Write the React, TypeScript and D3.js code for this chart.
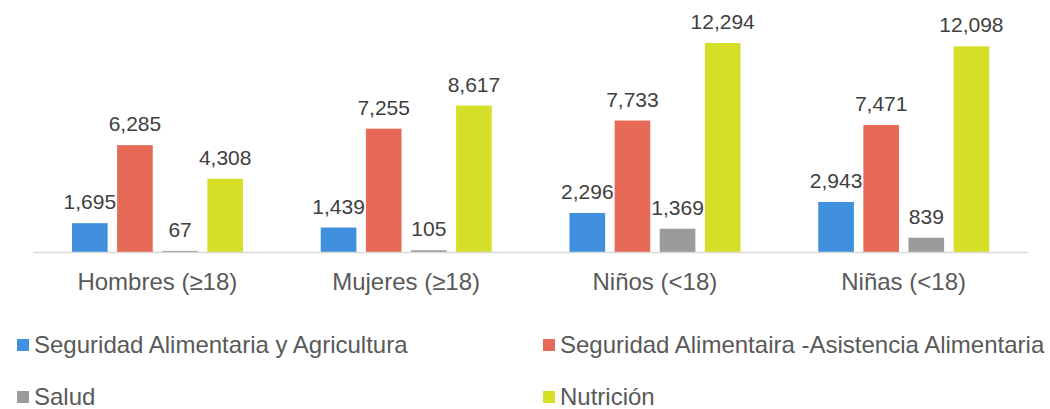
import React from 'react';
import * as d3 from 'd3';

const categories = ['Hombres (≥18)', 'Mujeres (≥18)', 'Niños (<18)', 'Niñas (<18)'];
const seriesNames = [
  'Seguridad Alimentaria y Agricultura',
  'Seguridad Alimentaira -Asistencia Alimentaria',
  'Salud',
  'Nutrición',
];
const seguridadAgricultura = [1695, 1439, 2296, 2943];
const asistenciaAlimentaria = [6285, 7255, 7733, 7471];
const salud = [67, 105, 1369, 839];
const nutricion = [4308, 8617, 12294, 12098];
const colors = ['#4190e0', '#e66a56', '#9b9b9b', '#d5df27'];

const seriesValues = [seguridadAgricultura, asistenciaAlimentaria, salud, nutricion];

const W = 1050;
const H = 409;
const margin = { left: 33, right: 22, top: 14, baseline: 252 };

const App: React.FC = () => {
  const x0 = d3.scaleBand<string>().domain(categories).range([margin.left, W - margin.right]);
  const x1 = d3
    .scaleBand<string>()
    .domain(seriesNames)
    .range([39, 210])
    .paddingInner(0.21);
  const y = d3.scaleLinear().domain([0, 14000]).range([margin.baseline, margin.top]);
  const fmt = d3.format(',');

  return (
    <svg
      width={W}
      height={H}
      style={{ position: 'absolute', left: 0, top: 0, fontFamily: '"Liberation Sans", Arial, sans-serif' }}
    >
      <rect width={W} height={H} fill="#fff" />
      {categories.map((cat, ci) => (
        <g key={cat} transform={`translate(${x0(cat)},0)`}>
          {seriesNames.map((s, si) => {
            const v = seriesValues[si][ci];
            const bx = x1(s) as number;
            return (
              <g key={s}>
                <rect
                  x={bx}
                  y={y(v)}
                  width={x1.bandwidth()}
                  height={y(0) - y(v)}
                  fill={colors[si]}
                />
                <text
                  x={bx + x1.bandwidth() / 2}
                  y={y(v) - 14}
                  textAnchor="middle"
                  fontSize={21}
                  fill="#404040"
                >
                  {fmt(v)}
                </text>
              </g>
            );
          })}
          <text
            x={x0.bandwidth() / 2}
            y={290}
            textAnchor="middle"
            fontSize={24}
            fill="#595959"
          >
            {cat}
          </text>
        </g>
      ))}
      <line
        x1={margin.left}
        x2={W - margin.right}
        y1={margin.baseline + 0.5}
        y2={margin.baseline + 0.5}
        stroke="#d9d9d9"
        strokeWidth={1.5}
      />
      {seriesNames.map((s, i) => {
        const lx = i % 2 === 0 ? 17 : 543;
        const ly = i < 2 ? 353 : 405;
        return (
          <g key={s}>
            <rect x={lx} y={ly - 14} width={12} height={12} fill={colors[i]} />
            <text x={lx + 17} y={ly} fontSize={24} fill="#595959">
              {s}
            </text>
          </g>
        );
      })}
    </svg>
  );
};

export default App;
